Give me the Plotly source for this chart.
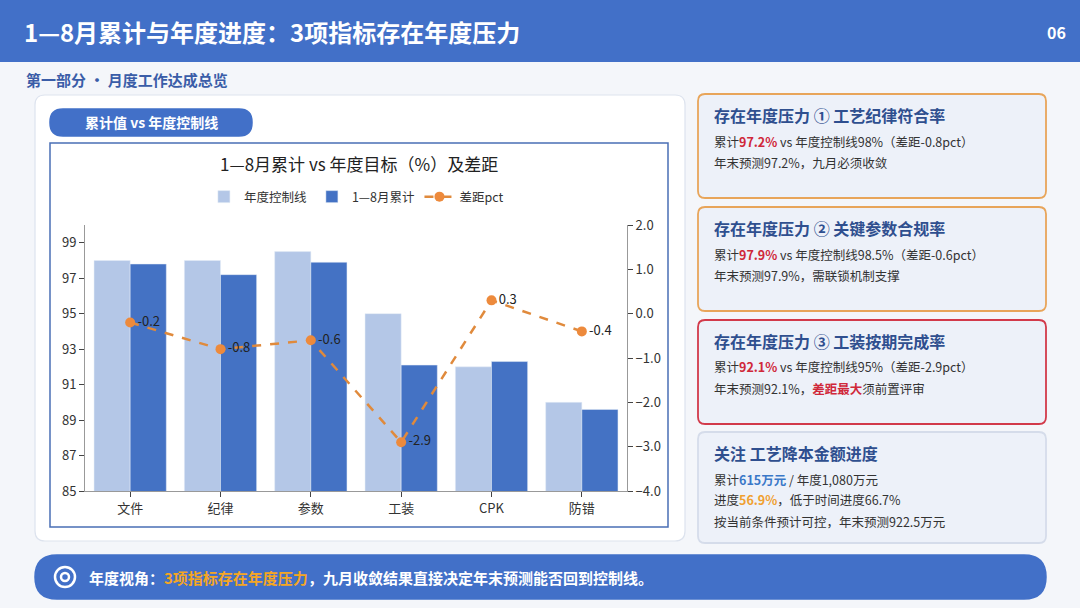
import numpy as np
import pandas as pd
import plotly.graph_objects as go

W, H = 1080, 608
FONT = "Noto Sans CJK SC"


def px(x, y):
    """convert pixel position to paper coordinates"""
    return x / W, 1 - y / H


def round_rect(fig, x0, y0, x1, y1, r, fill, line, width=1.5):
    """
    Adds a rounded rectangle given in pixel coordinates
    :param
        Input: x0,y0,x1,y1 --> box corners in pixels, r --> corner radius
               fill, line --> colors
    """
    pts = [(x0 + r, y0), (x1 - r, y0), ("Q", x1, y0, x1, y0 + r), (x1, y1 - r),
           ("Q", x1, y1, x1 - r, y1), (x0 + r, y1), ("Q", x0, y1, x0, y1 - r),
           (x0, y0 + r), ("Q", x0, y0, x0 + r, y0)]
    path = "M %f,%f" % px(*pts[0])
    for p in pts[1:]:
        if p[0] == "Q":
            a, b = px(p[1], p[2])
            c, d = px(p[3], p[4])
            path += " Q %f,%f %f,%f" % (a, b, c, d)
        else:
            path += " L %f,%f" % px(*p)
    fig.add_shape(type="path", path=path + " Z", xref="paper", yref="paper",
                  fillcolor=fill, line=dict(color=line, width=width), layer="below")


def text(fig, x, y, s, size=13, color="#333333", anchor="left"):
    a, b = px(x, y)
    fig.add_annotation(x=a, y=b, xref="paper", yref="paper", text=s, showarrow=False,
                       xanchor=anchor, yanchor="middle", font=dict(family=FONT, size=size, color=color))


def plot_slide(df):
    """
    Plots the cumulative vs annual control line chart with the gap line and the slide around it
    :param
        Input: df --> dataframe with 项目, 年度控制线, 1—8月累计, 差距pct
        Output: the slide written to out.html
    """
    assert isinstance(df, pd.DataFrame)

    fig = go.Figure()

    fig.add_trace(go.Bar(x=df["项目"], y=df["年度控制线"], name="年度控制线",
                         marker_color="#B4C7E7"))
    fig.add_trace(go.Bar(x=df["项目"], y=df["1—8月累计"], name="1—8月累计",
                         marker_color="#4472C4"))
    fig.add_trace(go.Scatter(x=df["项目"], y=df["差距pct"], name="差距pct", yaxis="y2",
                             mode="lines+markers+text", text=["%.1f" % v for v in df["差距pct"]],
                             textposition="middle right", textfont=dict(size=13, color="#222222"),
                             line=dict(color="#E08A3C", width=2.5, dash="dash"),
                             marker=dict(size=10, color="#ED8A3C")))

    # slide decoration
    fig.add_shape(type="rect", xref="paper", yref="paper", x0=0, x1=1, y0=px(0, 62)[1], y1=1,
                  fillcolor="#4270C8", line_width=0, layer="below")
    round_rect(fig, 35, 95, 685, 541, 10, "white", "#DDE3EE", 1.2)
    round_rect(fig, 50, 109, 252, 136, 13, "#4270C8", "#4270C8")
    fig.add_shape(type="rect", xref="paper", yref="paper", x0=px(50, 0)[0], x1=px(668, 0)[0],
                  y0=px(0, 527)[1], y1=px(0, 143)[1], line=dict(color="#4A6FB5", width=1.5),
                  layer="below")
    cards = [(94, 198, "#E8A55A"), (207, 311, "#E8A55A"), (320, 424, "#D23A4A"), (432, 543, "#D5DCEA")]
    for y0, y1, c in cards:
        round_rect(fig, 698, y0, 1046, y1, 7, "#EDF1F9", c, 1.8)
    round_rect(fig, 35, 555, 1046, 599, 22, "#4270C8", "#4270C8")
    fig.add_shape(type="circle", xref="paper", yref="paper", x0=px(55, 0)[0], x1=px(75, 0)[0],
                  y0=px(0, 587)[1], y1=px(0, 567)[1], line=dict(color="white", width=2.5))
    fig.add_shape(type="circle", xref="paper", yref="paper", x0=px(61, 0)[0], x1=px(69, 0)[0],
                  y0=px(0, 581)[1], y1=px(0, 573)[1], line=dict(color="white", width=2.5))

    text(fig, 22, 32, "<b>1—8月累计与年度进度：3项指标存在年度压力</b>", 24, "white")
    text(fig, 1068, 32, "<b>06</b>", 16, "white", "right")
    text(fig, 24, 79, "<b>第一部分 · 月度工作达成总览</b>", 15, "#3A5DA8")
    text(fig, 151, 122, "<b>累计值 vs 年度控制线</b>", 14, "white", "center")
    text(fig, 359, 163, "1—8月累计 vs 年度目标（%）及差距", 17, "#222222", "center")

    red, blue, orange, dark = "#D0283A", "#3A78C8", "#F0A030", "#2F4F8F"
    lines = [
        ("存在年度压力 ① 工艺纪律符合率",
         ["累计<span style='color:%s'><b>97.2%%</b></span> vs 年度控制线98%%（差距-0.8pct）" % red,
          "年末预测97.2%，九月必须收敛"]),
        ("存在年度压力 ② 关键参数合规率",
         ["累计<span style='color:%s'><b>97.9%%</b></span> vs 年度控制线98.5%%（差距-0.6pct）" % red,
          "年末预测97.9%，需联锁机制支撑"]),
        ("存在年度压力 ③ 工装按期完成率",
         ["累计<span style='color:%s'><b>92.1%%</b></span> vs 年度控制线95%%（差距-2.9pct）" % red,
          "年末预测92.1%%，<span style='color:%s'><b>差距最大</b></span>须前置评审" % red]),
        ("关注 工艺降本金额进度",
         ["累计<span style='color:%s'><b>615万元</b></span> / 年度1,080万元" % blue,
          "进度<span style='color:%s'><b>56.9%%</b></span>，低于时间进度66.7%%" % orange,
          "按当前条件预计可控，年末预测922.5万元"]),
    ]
    for (y0, y1, c), (head, body) in zip(cards, lines):
        text(fig, 712, y0 + 21, "<b>%s</b>" % head, 16, dark)
        for i, b in enumerate(body):
            text(fig, 712, y0 + 47 + 21 * i, b, 12.5, "#333333")

    text(fig, 87, 577, "<b>年度视角：<span style='color:#F5A623'>3项指标存在年度压力</span>，"
         "九月收敛结果直接决定年末预测能否回到控制线。</b>", 15, "white")

    x0, _ = px(85, 0)
    x1, _ = px(627, 0)
    _, yb = px(0, 491)
    _, yt = px(0, 225)
    fig.update_layout(width=W, height=H, margin=dict(l=0, r=0, t=0, b=0, autoexpand=False),
                      paper_bgcolor="#F4F6FA", plot_bgcolor="white",
                      font=dict(family=FONT, size=12, color="#333333"),
                      barmode="group", bargap=0.2, bargroupgap=0,
                      xaxis=dict(domain=[x0, x1], showline=True, linecolor="#999999",
                                 ticks="outside", tickfont=dict(size=13)),
                      yaxis=dict(domain=[yb, yt], range=[85, 100], tickvals=list(range(85, 100, 2)),
                                 showgrid=False, showline=True, linecolor="#999999", ticks="outside",
                                 tickfont=dict(size=13)),
                      yaxis2=dict(overlaying="y", side="right", range=[-4, 2], dtick=1,
                                  tickformat=".1f", showgrid=False, showline=True, linecolor="#999999",
                                  ticks="outside", tickfont=dict(size=13)),
                      legend=dict(orientation="h", x=0.33, xanchor="center", y=px(0, 197)[1],
                                  yanchor="middle", font=dict(size=12.5), bgcolor="rgba(0,0,0,0)",
                                  itemwidth=30),
                      showlegend=True)

    fig.write_html("out.html", config={"displayModeBar": False},
                   post_script="document.documentElement.style.margin='0';"
                               "document.body.style.margin='0';document.body.style.padding='0';"
                               "var gd=document.getElementById('{plot_id}');"
                               "gd.style.position='fixed';gd.style.top='0';gd.style.left='0';")


data = pd.DataFrame({
    "项目": ["文件", "纪律", "参数", "工装", "CPK", "防错"],
    "年度控制线": [98.0, 98.0, 98.5, 95.0, 92.0, 90.0],
    "1—8月累计": [97.8, 97.2, 97.9, 92.1, 92.3, 89.6],
    "差距pct": [-0.2, -0.8, -0.6, -2.9, 0.3, -0.4],
})

plot_slide(data)
